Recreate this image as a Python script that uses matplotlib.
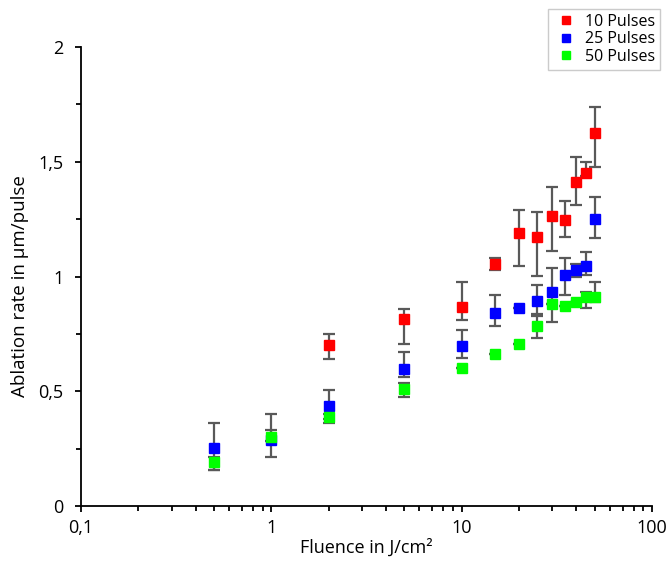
import matplotlib
matplotlib.use("Agg")
import matplotlib.pyplot as plt
from matplotlib.ticker import FixedLocator, FuncFormatter, NullFormatter
from matplotlib.lines import Line2D
import numpy as np

plt.rcParams['font.family'] = ['Open Sans', 'DejaVu Sans']

# Data
x10 = [2, 5, 10, 15, 20, 25, 30, 35, 40, 45, 50]
y10 = [0.703, 0.813, 0.868, 1.053, 1.188, 1.172, 1.264, 1.246, 1.412, 1.452, 1.625]
y10_hi = [0.751, 0.857, 0.975, 1.082, 1.291, 1.281, 1.391, 1.329, 1.522, 1.498, 1.739]
y10_lo = [0.641, 0.705, 0.809, 1.027, 1.047, 1.002, 1.112, 1.173, 1.310, 1.440, 1.477]

x25 = [0.5, 1, 2, 5, 10, 15, 20, 25, 30, 35, 40, 45, 50]
y25 = [0.251, 0.287, 0.437, 0.595, 0.697, 0.842, 0.864, 0.893, 0.931, 1.005, 1.027, 1.044, 1.252]
y25_hi = [0.360, 0.400, 0.505, 0.673, 0.765, 0.921, 0.864, 0.962, 1.038, 1.079, 1.053, 1.108, 1.348]
y25_lo = [0.155, 0.215, 0.362, 0.563, 0.646, 0.784, 0.864, 0.835, 0.802, 0.918, 0.999, 1.008, 1.168]

x50 = [0.5, 1, 2, 5, 10, 15, 20, 25, 30, 35, 40, 45, 50]
y50 = [0.193, 0.299, 0.389, 0.510, 0.600, 0.661, 0.705, 0.784, 0.879, 0.870, 0.888, 0.909, 0.912]
y50_hi = [0.215, 0.330, 0.400, 0.538, 0.600, 0.661, 0.705, 0.830, 0.879, 0.870, 0.888, 0.934, 0.976]
y50_lo = [0.155, 0.285, 0.380, 0.476, 0.600, 0.661, 0.705, 0.731, 0.879, 0.870, 0.888, 0.863, 0.890]

series = [
    ("10 Pulses", x10, y10, y10_lo, y10_hi, "#ff0000"),
    ("25 Pulses", x25, y25, y25_lo, y25_hi, "#0000ff"),
    ("50 Pulses", x50, y50, y50_lo, y50_hi, "#00ff00"),
]

fig = plt.figure(figsize=(6.66, 5.67), dpi=100)
ax = fig.add_axes([81/666, 1-506/567, (652-81)/666, (506-47)/567])

err_color = "#595959"
for name, xs, ys, lo, hi, c in series:
    ys_a = np.array(ys); lo_a = np.array(lo); hi_a = np.array(hi)
    yerr = np.vstack([ys_a - lo_a, hi_a - ys_a])
    ax.errorbar(xs, ys, yerr=yerr, fmt='none', ecolor=err_color,
                elinewidth=1.6, capsize=4, capthick=1.6, zorder=2)
for name, xs, ys, lo, hi, c in series:
    ax.plot(xs, ys, linestyle='none', marker='s', markersize=7.5,
            markerfacecolor=c, markeredgecolor=c, zorder=3)

ax.set_xscale('log')
ax.set_xlim(0.1, 100)
ax.set_ylim(0, 2)

def comma(v, pos):
    return ('%g' % v).replace('.', ',')

ax.xaxis.set_major_locator(FixedLocator([0.1, 1, 10, 100]))
minors = [m * 10.0**d for d in (-1, 0, 1) for m in range(2, 10)]
ax.xaxis.set_minor_locator(FixedLocator(minors))
ax.xaxis.set_major_formatter(FuncFormatter(comma))
ax.xaxis.set_minor_formatter(NullFormatter())
ax.yaxis.set_major_locator(FixedLocator([0, 0.5, 1, 1.5, 2]))
ax.yaxis.set_minor_locator(FixedLocator([0.25, 0.75, 1.25, 1.75]))
ax.yaxis.set_major_formatter(FuncFormatter(comma))

for s in ('top', 'right'):
    ax.spines[s].set_visible(False)
for s in ('left', 'bottom'):
    ax.spines[s].set_linewidth(1.3)
    ax.spines[s].set_color('black')

ax.tick_params(axis='both', which='major', direction='out', length=4.5, width=1.3,
               labelsize=13, colors='black')
ax.tick_params(axis='both', which='minor', direction='out', length=3.5, width=1.3)
ax.tick_params(axis='y', which='major', pad=8)
ax.tick_params(axis='x', which='major', pad=5)

ax.set_xlabel("Fluence in J/cm²", fontsize=13, va='center')
ax.set_ylabel("Ablation rate in µm/pulse", fontsize=13.5, va='center')
ax.xaxis.set_label_coords(0.5, (506-548)/459)
ax.yaxis.set_label_coords((20-81)/571, (506-286)/459)

handles = [Line2D([], [], linestyle='none', marker='s', markersize=5.5,
                  markerfacecolor=c, markeredgecolor=c) for _, _, _, _, _, c in series]
labels = [s[0] for s in series]
leg = fig.legend(handles, labels, loc='upper right', bbox_to_anchor=(660/666, 1-9/567),
                 fontsize=11.5, frameon=True, fancybox=False, edgecolor='#bfbfbf',
                 handlelength=1.6, handletextpad=0.4, borderpad=0.3,
                 labelspacing=0.1, borderaxespad=0)
leg.get_frame().set_linewidth(1.0)

fig.savefig("out.png", dpi=100)
